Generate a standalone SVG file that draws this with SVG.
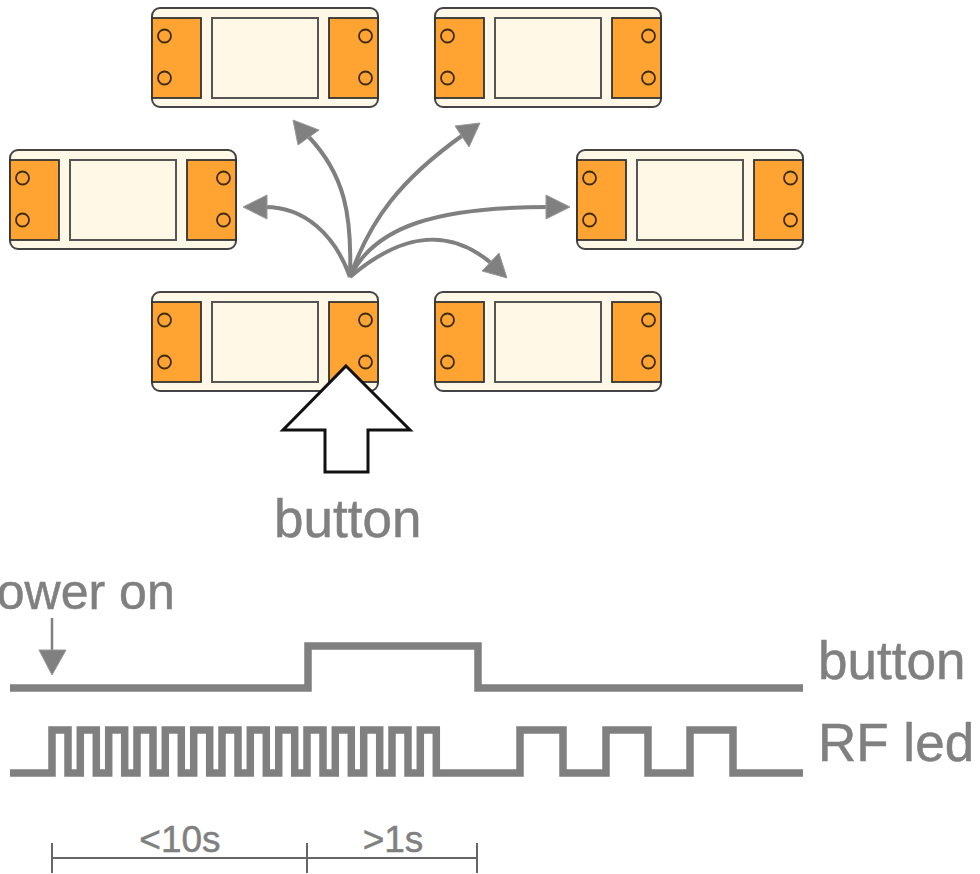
<svg xmlns="http://www.w3.org/2000/svg" xmlns:xlink="http://www.w3.org/1999/xlink" width="980" height="874" viewBox="0 0 980 874">
<style>
.body{fill:#fff8e7;stroke:#444;stroke-width:2}
.pad{fill:#ffa333;stroke:#333;stroke-width:1.8}
.mid{fill:#fff8e7;stroke:#555;stroke-width:2}
.hole{fill:none;stroke:#3c2c10;stroke-width:1.8}
.arc{fill:none;stroke:#808080;stroke-width:4}
.head{fill:#808080;stroke:#999;stroke-width:1}
.wave{fill:none;stroke:#808080;stroke-width:7.500}
.dim{fill:none;stroke:#666;stroke-width:2}
.lbl{font-family:"Liberation Sans",Arial,sans-serif;fill:#808080;stroke:#808080;stroke-width:.5px;font-size:53px}
.sm{font-family:"Liberation Sans",Arial,sans-serif;fill:#808080;stroke:#808080;stroke-width:.5px;font-size:37px;text-anchor:middle}
</style>
<defs>
<g id="relay">
<rect class="body" x="152" y="8" width="226" height="99" rx="8"/>
<rect class="pad" x="152" y="18" width="49" height="80"/>
<rect class="mid" x="212" y="18" width="106" height="80"/>
<rect class="pad" x="329" y="18" width="49" height="80"/>
<circle class="hole" cx="164.500" cy="36" r="6.500"/>
<circle class="hole" cx="164.500" cy="78" r="6.500"/>
<circle class="hole" cx="365.500" cy="36" r="6.500"/>
<circle class="hole" cx="365.500" cy="78" r="6.500"/>
</g>
</defs>
<g id="node-top-left"><use xlink:href="#relay"/></g>
<g id="node-top-right"><use xlink:href="#relay" x="283"/></g>
<g id="node-mid-left"><use xlink:href="#relay" x="-142" y="142"/></g>
<g id="node-mid-right"><use xlink:href="#relay" x="425" y="142"/></g>
<g id="node-bottom-left"><use xlink:href="#relay" y="284"/></g>
<g id="node-bottom-right"><use xlink:href="#relay" x="283" y="284"/></g>
<g id="connectors">
<path class="arc" d="M350 277C335 235 305 207 265 207"/>
<polygon class="head" points="243,207 267,195 267,219"/>
<path class="arc" d="M350 277C352 215 345 175 308 136"/>
<polygon class="head" points="293,120 319,130 298,145"/>
<path class="arc" d="M350 277C370 220 400 180 463 135"/>
<polygon class="head" points="480,123 455,126 469,147"/>
<path class="arc" d="M350 277C375 225 440 207 548 207"/>
<polygon class="head" points="570,207 546,195 546,219"/>
<path class="arc" d="M350 277C390 243 440 220 491 263"/>
<polygon class="head" points="507,278 499,253 482,271"/>
</g>
<g id="press-arrow"><polygon points="346,366 410,430 368,430 368,472 325,472 325,430 283,430" fill="#fff" stroke="#111" stroke-width="3"/></g>
<text class="lbl" x="274" y="537">button</text>
<text class="lbl" x="-31" y="609" style="font-size:50px">power on</text>
<g id="power-arrow"><path d="M52 618V652" stroke="#808080" stroke-width="2.500" fill="none"/><polygon class="head" points="39,650 66,650 52,675"/></g>
<path id="button-wave" class="wave" d="M10 688H308V646H478V688H803"/>
<path id="rf-wave" class="wave" d="M10 773H52V730H68V773H80.300V730H96.300V773H108.700V730H124.700V773H137V730H153V773H165.300V730H181.300V773H193.700V730H209.700V773H222V730H238V773H250.300V730H266.300V773H278.700V730H294.700V773H307V730H323V773H335.300V730H351.300V773H363.700V730H379.700V773H392V730H408V773H420.300V730H436.300V773H520V730H563V773H606V730H648V773H690V730H733V773H803"/>
<text class="lbl" x="818" y="679">button</text>
<text class="lbl" x="818" y="761">RF led</text>
<g id="timing-scale"><path class="dim" d="M52 858H477M52 843V873M307 843V873M477 843V873"/></g>
<text class="sm" x="180" y="852">&lt;10s</text>
<text class="sm" x="393" y="852">&gt;1s</text>
</svg>
